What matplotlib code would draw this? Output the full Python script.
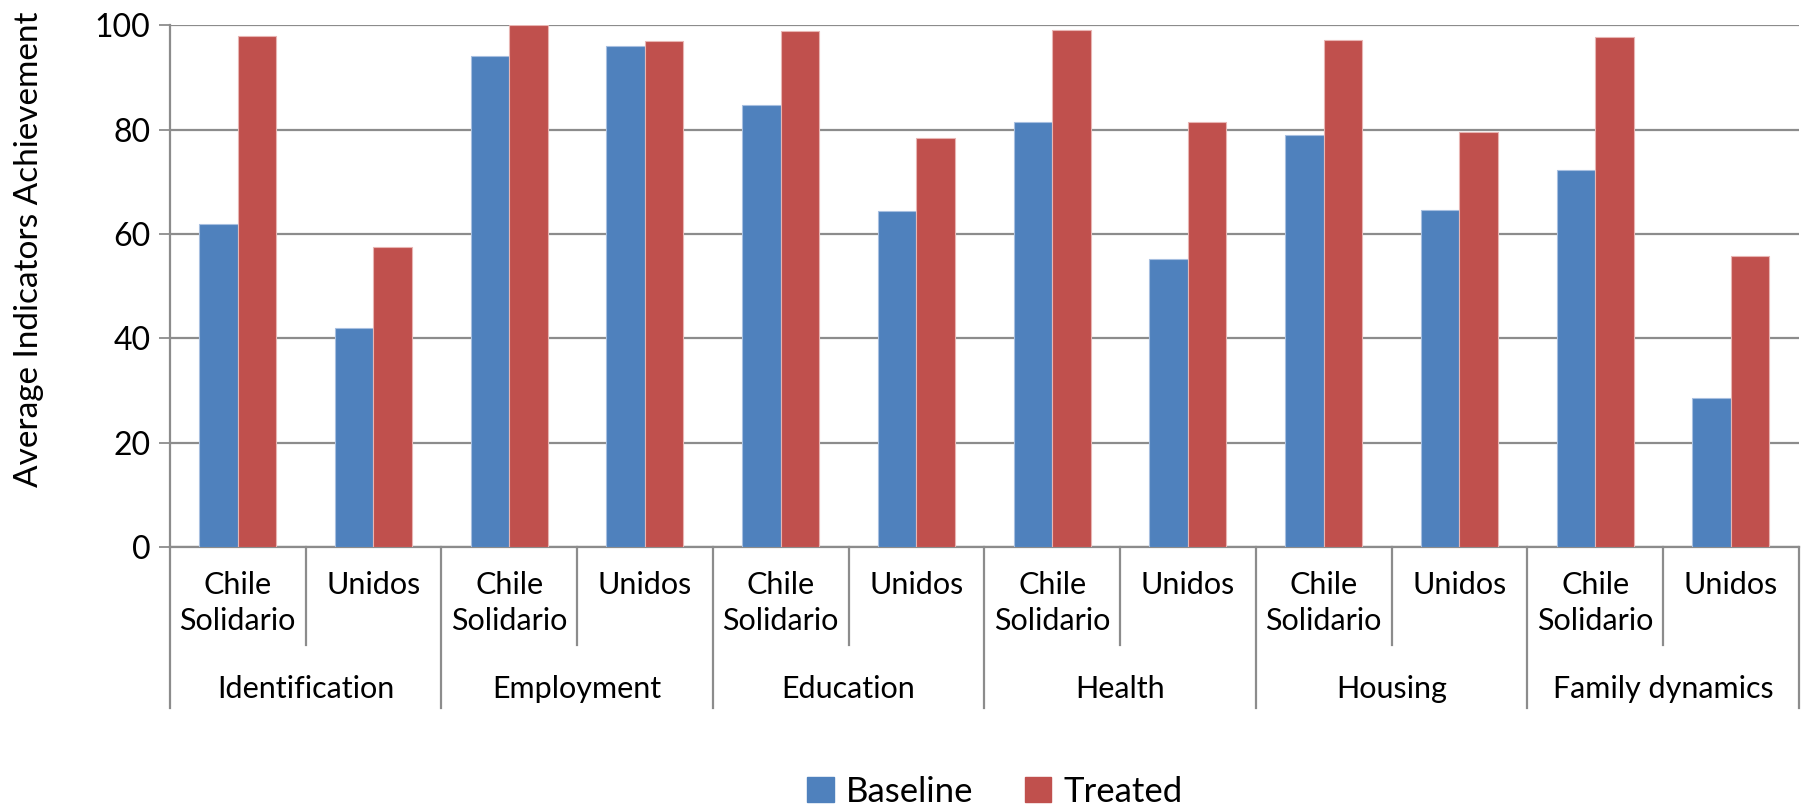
import matplotlib
matplotlib.use("Agg")
import matplotlib.pyplot as plt
import matplotlib.transforms as mtransforms
from matplotlib.patches import Patch
import numpy as np

plt.rcParams['font.family'] = ['Lato', 'DejaVu Sans']

groups = ["Identification", "Employment", "Education", "Health", "Housing", "Family dynamics"]
programs = ["Chile\nSolidario", "Unidos"]
baseline = [61.8, 42.0, 94.1, 96.0, 84.7, 64.3, 81.4, 55.2, 78.9, 64.5, 72.2, 28.6]
treated = [97.9, 57.5, 100.0, 97.0, 98.9, 78.4, 99.1, 81.4, 97.2, 79.5, 97.8, 55.7]

BLUE = "#4F81BD"
RED = "#C0504D"
GRID = "#8C8C8C"


def main():
    fig = plt.figure(figsize=(18.06, 8.11), dpi=100)
    ax = fig.add_axes([0.094, 0.3255, 0.902, 0.6435])

    n = len(baseline)
    x = np.arange(n)
    w = 0.283
    ax.bar(x - w / 2, baseline, w, color=BLUE, edgecolor="#A7BFE0", linewidth=0.8, zorder=3)
    ax.bar(x + w / 2, treated, w, color=RED, edgecolor="#E8B5B3", linewidth=0.8, zorder=3)

    ax.set_xlim(-0.5, n - 0.5)
    ax.set_ylim(0, 100)
    ax.set_yticks(range(0, 101, 20))
    ax.yaxis.grid(True, color=GRID, linewidth=1.6, zorder=0)
    ax.tick_params(axis='y', labelsize=23, length=8, width=1.3, color=GRID, pad=6)
    ax.set_xticks([])
    for s in ['top', 'right']:
        ax.spines[s].set_visible(False)
    for s in ['left', 'bottom']:
        ax.spines[s].set_color(GRID)
        ax.spines[s].set_linewidth(1.6)
    ax.set_ylabel("Average Indicators Achievement", fontsize=24)
    ax.yaxis.set_label_coords(-0.077, 0.57)

    # multi-level category axis
    tr = mtransforms.blended_transform_factory(ax.transData, ax.transAxes)
    for i in range(n):
        ax.text(i, -0.045, programs[i % 2], transform=tr, ha='center', va='top',
                fontsize=22, linespacing=1.35)
    for k in range(n + 1):
        bottom = -0.308 if k % 2 == 0 else -0.188
        ax.plot([k - 0.5, k - 0.5], [0, bottom], transform=tr, color=GRID,
                linewidth=1.6, clip_on=False)
    for g, name in enumerate(groups):
        ax.text(2 * g + 0.5, -0.272, name, transform=tr, ha='center', va='center', fontsize=22)

    handles = [Patch(color=BLUE), Patch(color=RED)]
    fig.legend(handles, ["Baseline", "Treated"], loc='center', bbox_to_anchor=(0.551, 0.024),
               ncol=2, frameon=False, fontsize=25, handlelength=0.75, handleheight=0.75,
               handletextpad=0.35, columnspacing=1.5)

    fig.savefig("out.png", dpi=100)
    plt.close(fig)


if __name__ == '__main__':
    main()
